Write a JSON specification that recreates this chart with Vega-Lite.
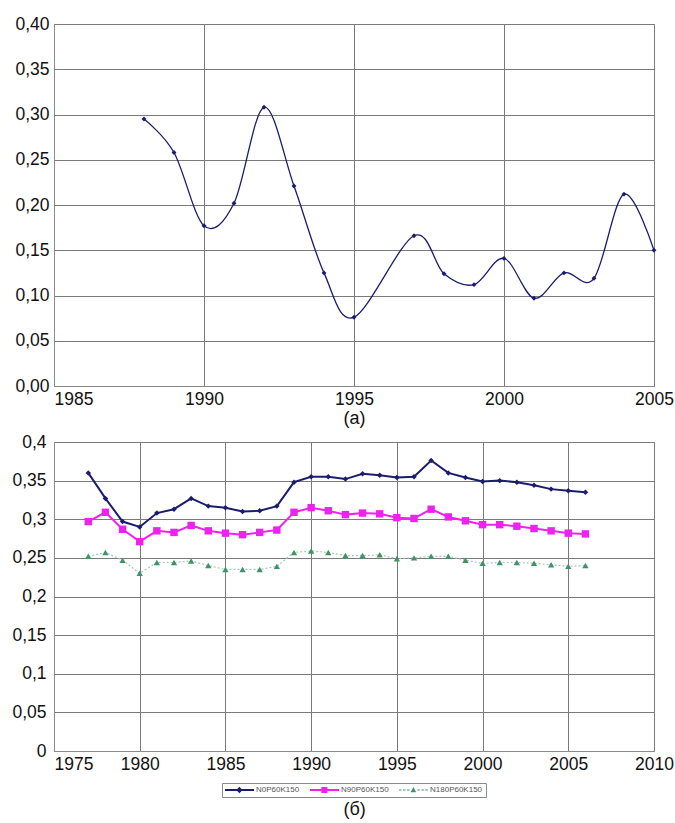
{
  "$schema": "https://vega.github.io/schema/vega-lite/v6.json",
  "padding": {"left": 11, "top": 14, "right": 0, "bottom": 0},
  "background": "white",
  "columns": 1,
  "align": "none",
  "spacing": 4,
  "title": {"text": "(б)", "orient": "bottom", "fontSize": 18, "fontWeight": "normal", "offset": 3, "anchor": "middle", "color": "#111111", "font": "Liberation Sans", "dx": 12},
  "config": {
    "font": "Liberation Sans",
    "view": {"stroke": "#b4b4b4", "strokeWidth": 1},
    "axis": {
      "labelFont": "Liberation Sans",
      "labelFontSize": 17.5,
      "labelColor": "#111111",
      "grid": true,
      "gridColor": "#7a7a7a",
      "gridWidth": 1,
      "ticks": false,
      "domainColor": "#8a8a8a",
      "labelPadding": 5,
      "titleFont": "Liberation Sans",
      "titleFontWeight": "normal",
      "titleFontSize": 18,
      "titleColor": "#111111"
    },
    "legend": {
      "labelFont": "Liberation Sans",
      "labelFontSize": 8,
      "labelColor": "#555555",
      "strokeColor": "#8a8a8a",
      "padding": 3,
      "columnPadding": 10,
      "symbolStrokeWidth": 0
    }
  },
  "concat": [
    {
      "width": 600,
      "height": 362,
      "data": {
        "values": [
          {"year": 1988, "v": 0.295},
          {"year": 1989, "v": 0.258},
          {"year": 1990, "v": 0.177},
          {"year": 1991, "v": 0.202},
          {"year": 1992, "v": 0.308},
          {"year": 1993, "v": 0.221},
          {"year": 1994, "v": 0.125},
          {"year": 1995, "v": 0.076},
          {"year": 1997, "v": 0.166},
          {"year": 1998, "v": 0.124},
          {"year": 1999, "v": 0.112},
          {"year": 2000, "v": 0.141},
          {"year": 2001, "v": 0.097},
          {"year": 2002, "v": 0.125},
          {"year": 2003, "v": 0.119},
          {"year": 2004, "v": 0.212},
          {"year": 2005, "v": 0.150}
        ]
      },
      "encoding": {
        "x": {
          "field": "year",
          "type": "quantitative",
          "scale": {"domain": [1985, 2005], "nice": false, "zero": false},
          "axis": {
            "values": [1985, 1990, 1995, 2000, 2005],
            "format": "d",
            "title": "(а)",
            "titlePadding": 2,
            "labelPadding": 4,
            "labelAlign": {"condition": {"test": "datum.value == 1985", "value": "left"}, "value": "center"}
          }
        },
        "y": {
          "field": "v",
          "type": "quantitative",
          "scale": {"domain": [0, 0.4], "nice": false},
          "axis": {
            "values": [0, 0.05, 0.1, 0.15, 0.2, 0.25, 0.3, 0.35, 0.4],
            "labelExpr": "replace(format(datum.value, '.2f'), '.', ',')",
            "title": null
          }
        }
      },
      "layer": [
        {"mark": {"type": "line", "interpolate": "cardinal", "color": "#1c1c6e", "strokeWidth": 1.3}},
        {"mark": {"type": "point", "shape": "diamond", "filled": true, "color": "#1c1c6e", "size": 24, "opacity": 1}}
      ]
    },
    {
      "width": 600,
      "height": 309,
      "data": {
        "values": [
          {"year": 1977, "series": "N0P60K150", "v": 0.360},
          {"year": 1978, "series": "N0P60K150", "v": 0.327},
          {"year": 1979, "series": "N0P60K150", "v": 0.297},
          {"year": 1980, "series": "N0P60K150", "v": 0.290},
          {"year": 1981, "series": "N0P60K150", "v": 0.308},
          {"year": 1982, "series": "N0P60K150", "v": 0.313},
          {"year": 1983, "series": "N0P60K150", "v": 0.327},
          {"year": 1984, "series": "N0P60K150", "v": 0.317},
          {"year": 1985, "series": "N0P60K150", "v": 0.315},
          {"year": 1986, "series": "N0P60K150", "v": 0.310},
          {"year": 1987, "series": "N0P60K150", "v": 0.311},
          {"year": 1988, "series": "N0P60K150", "v": 0.317},
          {"year": 1989, "series": "N0P60K150", "v": 0.348},
          {"year": 1990, "series": "N0P60K150", "v": 0.355},
          {"year": 1991, "series": "N0P60K150", "v": 0.355},
          {"year": 1992, "series": "N0P60K150", "v": 0.352},
          {"year": 1993, "series": "N0P60K150", "v": 0.359},
          {"year": 1994, "series": "N0P60K150", "v": 0.357},
          {"year": 1995, "series": "N0P60K150", "v": 0.354},
          {"year": 1996, "series": "N0P60K150", "v": 0.355},
          {"year": 1997, "series": "N0P60K150", "v": 0.376},
          {"year": 1998, "series": "N0P60K150", "v": 0.360},
          {"year": 1999, "series": "N0P60K150", "v": 0.354},
          {"year": 2000, "series": "N0P60K150", "v": 0.349},
          {"year": 2001, "series": "N0P60K150", "v": 0.350},
          {"year": 2002, "series": "N0P60K150", "v": 0.348},
          {"year": 2003, "series": "N0P60K150", "v": 0.344},
          {"year": 2004, "series": "N0P60K150", "v": 0.339},
          {"year": 2005, "series": "N0P60K150", "v": 0.337},
          {"year": 2006, "series": "N0P60K150", "v": 0.335},
          {"year": 1977, "series": "N90P60K150", "v": 0.297},
          {"year": 1978, "series": "N90P60K150", "v": 0.309},
          {"year": 1979, "series": "N90P60K150", "v": 0.287},
          {"year": 1980, "series": "N90P60K150", "v": 0.271},
          {"year": 1981, "series": "N90P60K150", "v": 0.285},
          {"year": 1982, "series": "N90P60K150", "v": 0.283},
          {"year": 1983, "series": "N90P60K150", "v": 0.292},
          {"year": 1984, "series": "N90P60K150", "v": 0.285},
          {"year": 1985, "series": "N90P60K150", "v": 0.282},
          {"year": 1986, "series": "N90P60K150", "v": 0.280},
          {"year": 1987, "series": "N90P60K150", "v": 0.283},
          {"year": 1988, "series": "N90P60K150", "v": 0.286},
          {"year": 1989, "series": "N90P60K150", "v": 0.309},
          {"year": 1990, "series": "N90P60K150", "v": 0.315},
          {"year": 1991, "series": "N90P60K150", "v": 0.311},
          {"year": 1992, "series": "N90P60K150", "v": 0.306},
          {"year": 1993, "series": "N90P60K150", "v": 0.308},
          {"year": 1994, "series": "N90P60K150", "v": 0.307},
          {"year": 1995, "series": "N90P60K150", "v": 0.302},
          {"year": 1996, "series": "N90P60K150", "v": 0.301},
          {"year": 1997, "series": "N90P60K150", "v": 0.313},
          {"year": 1998, "series": "N90P60K150", "v": 0.303},
          {"year": 1999, "series": "N90P60K150", "v": 0.298},
          {"year": 2000, "series": "N90P60K150", "v": 0.293},
          {"year": 2001, "series": "N90P60K150", "v": 0.293},
          {"year": 2002, "series": "N90P60K150", "v": 0.291},
          {"year": 2003, "series": "N90P60K150", "v": 0.288},
          {"year": 2004, "series": "N90P60K150", "v": 0.285},
          {"year": 2005, "series": "N90P60K150", "v": 0.282},
          {"year": 2006, "series": "N90P60K150", "v": 0.281},
          {"year": 1977, "series": "N180P60K150", "v": 0.252},
          {"year": 1978, "series": "N180P60K150", "v": 0.257},
          {"year": 1979, "series": "N180P60K150", "v": 0.247},
          {"year": 1980, "series": "N180P60K150", "v": 0.230},
          {"year": 1981, "series": "N180P60K150", "v": 0.244},
          {"year": 1982, "series": "N180P60K150", "v": 0.244},
          {"year": 1983, "series": "N180P60K150", "v": 0.246},
          {"year": 1984, "series": "N180P60K150", "v": 0.240},
          {"year": 1985, "series": "N180P60K150", "v": 0.235},
          {"year": 1986, "series": "N180P60K150", "v": 0.235},
          {"year": 1987, "series": "N180P60K150", "v": 0.235},
          {"year": 1988, "series": "N180P60K150", "v": 0.239},
          {"year": 1989, "series": "N180P60K150", "v": 0.257},
          {"year": 1990, "series": "N180P60K150", "v": 0.259},
          {"year": 1991, "series": "N180P60K150", "v": 0.257},
          {"year": 1992, "series": "N180P60K150", "v": 0.253},
          {"year": 1993, "series": "N180P60K150", "v": 0.253},
          {"year": 1994, "series": "N180P60K150", "v": 0.254},
          {"year": 1995, "series": "N180P60K150", "v": 0.249},
          {"year": 1996, "series": "N180P60K150", "v": 0.250},
          {"year": 1997, "series": "N180P60K150", "v": 0.252},
          {"year": 1998, "series": "N180P60K150", "v": 0.252},
          {"year": 1999, "series": "N180P60K150", "v": 0.247},
          {"year": 2000, "series": "N180P60K150", "v": 0.243},
          {"year": 2001, "series": "N180P60K150", "v": 0.244},
          {"year": 2002, "series": "N180P60K150", "v": 0.244},
          {"year": 2003, "series": "N180P60K150", "v": 0.243},
          {"year": 2004, "series": "N180P60K150", "v": 0.241},
          {"year": 2005, "series": "N180P60K150", "v": 0.239},
          {"year": 2006, "series": "N180P60K150", "v": 0.240}
        ]
      },
      "encoding": {
        "x": {
          "field": "year",
          "type": "quantitative",
          "scale": {"domain": [1975, 2010], "nice": false, "zero": false},
          "axis": {
            "values": [1975, 1980, 1985, 1990, 1995, 2000, 2005, 2010],
            "format": "d",
            "title": null,
            "labelPadding": 4,
            "labelAlign": {"condition": {"test": "datum.value == 1975", "value": "left"}, "value": "center"}
          }
        },
        "y": {
          "field": "v",
          "type": "quantitative",
          "scale": {"domain": [0, 0.4], "nice": false},
          "axis": {
            "values": [0, 0.05, 0.1, 0.15, 0.2, 0.25, 0.3, 0.35, 0.4],
            "labelExpr": "replace(format(datum.value, '~g'), '.', ',')",
            "title": null,
            "labelPadding": 8
          }
        }
      },
      "layer": [
        {
          "transform": [{"filter": "datum.series == 'N180P60K150'"}],
          "mark": {"type": "line", "color": "#a3c9ad", "strokeWidth": 1.2, "strokeDash": [2, 2]}
        },
        {
          "transform": [{"filter": "datum.series == 'N90P60K150'"}],
          "mark": {"type": "line", "color": "#ee22ee", "strokeWidth": 2}
        },
        {
          "transform": [{"filter": "datum.series == 'N0P60K150'"}],
          "mark": {"type": "line", "color": "#1c1c6e", "strokeWidth": 2}
        },
        {
          "transform": [{"filter": "datum.series == 'N180P60K150'"}],
          "mark": {"type": "point", "shape": "triangle-up", "filled": true, "opacity": 1, "color": "#3d9466", "size": 40}
        },
        {
          "transform": [{"filter": "datum.series == 'N90P60K150'"}],
          "mark": {"type": "point", "shape": "square", "filled": true, "opacity": 1, "color": "#ee22ee", "size": 55}
        },
        {
          "transform": [{"filter": "datum.series == 'N0P60K150'"}],
          "mark": {"type": "point", "shape": "diamond", "filled": true, "opacity": 1, "color": "#1c1c6e", "size": 30}
        },
        {
          "transform": [{"filter": "false"}],
          "mark": {"type": "point", "filled": true, "opacity": 1},
          "encoding": {
            "color": {
              "field": "series",
              "type": "nominal",
              "scale": {"domain": ["N0P60K150", "N90P60K150", "N180P60K150"], "range": ["#1c1c6e", "#ee22ee", "#3d9466"]},
              "legend": {
                "title": null,
                "orient": "none",
                "direction": "horizontal",
                "legendX": 168,
                "legendY": 759,
                "symbolSize": 64,
                "labelOffset": 23
              }
            },
            "shape": {
              "field": "series",
              "type": "nominal",
              "scale": {
                "domain": ["N0P60K150", "N90P60K150", "N180P60K150"],
                "range": [
                  "M-1,-0.22H6.25V0.22H-1Z M2.6,-0.8L3.4,0L2.6,0.8L1.8,0Z",
                  "M-1,-0.22H6.25V0.22H-1Z M1.85,-0.75H3.35V0.75H1.85Z",
                  "M-1,-0.12H-0.4V0.12H-1Z M0,-0.12H0.6V0.12H0Z M1,-0.12H1.6V0.12H1Z M3.6,-0.12H4.2V0.12H3.6Z M4.6,-0.12H5.2V0.12H4.6Z M5.6,-0.12H6.2V0.12H5.6Z M2.6,-0.75L3.3,0.55H1.9Z"
                ]
              },
              "legend": {
                "title": null,
                "orient": "none",
                "direction": "horizontal",
                "legendX": 168,
                "legendY": 759,
                "symbolSize": 64,
                "labelOffset": 23
              }
            }
          }
        }
      ]
    }
  ]
}
